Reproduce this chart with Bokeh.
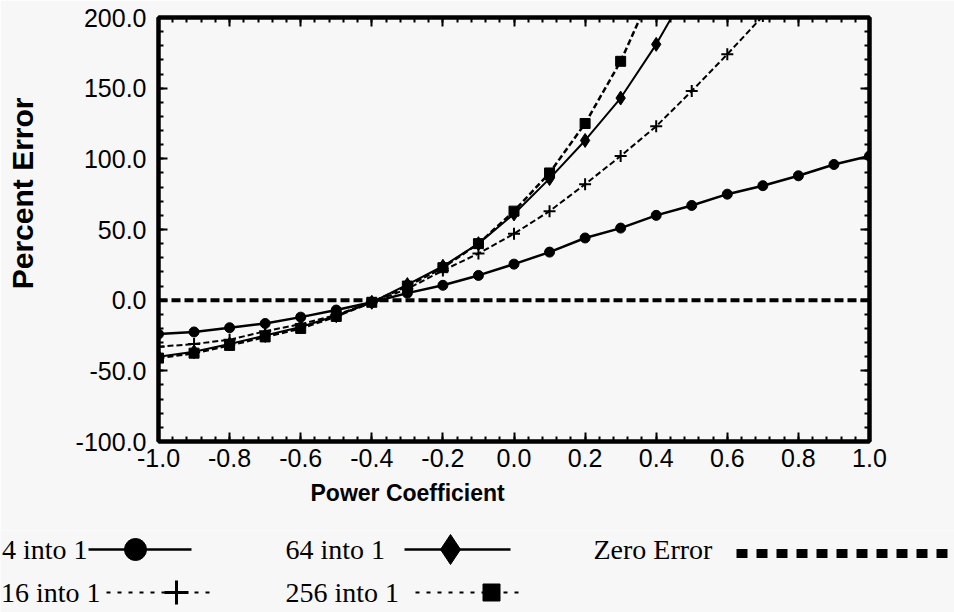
import numpy as np
from bokeh.plotting import figure
from bokeh.models import (Range1d, FixedTicker, PrintfTickFormatter, LinearAxis, Span, Title,
                          CustomJSTickFormatter)
from bokeh.core.properties import value
from bokeh.embed import file_html
from bokeh.resources import INLINE

# ---------------- data ----------------
power_coef = [-1.0, -0.9, -0.8, -0.7, -0.6, -0.5, -0.4, -0.3, -0.2, -0.1,
              0.0, 0.1, 0.2, 0.3, 0.4, 0.5, 0.6, 0.7, 0.8, 0.9, 1.0]
err_4 = [-24, -22.5, -19.5, -16.5, -12, -7, -1.5, 5, 10.5, 17.5,
         25.5, 34, 44, 51, 60, 67, 75, 81, 88, 96, 102]
err_16 = [-33, -31, -28, -22, -17, -10.5, -1.5, 8, 21, 33,
          47, 63, 82, 102, 123, 148, 174, 201, 230]
err_64 = [-40, -36.5, -31, -25, -19, -11, -1.5, 11, 24, 40,
          61, 86, 113, 143, 181, 225]
err_256 = [-41, -37.5, -32, -26, -20, -11.5, -1.5, 10, 23, 40,
           63, 90, 125, 169, 225]
zero_level = 0.0

x_ticks = [-1.0, -0.8, -0.6, -0.4, -0.2, 0.0, 0.2, 0.4, 0.6, 0.8, 1.0]
x_minor_ticks = [round(v, 2) for v in np.arange(-1.0, 1.0001, 0.04)]
y_ticks = [-100, -50, 0, 50, 100, 150, 200]
y_minor_ticks = list(range(-100, 201, 10))

x_title = "Power Coefficient"
y_title = "Percent Error"
legend_labels = ["4 into 1", "16 into 1", "64 into 1", "256 into 1", "Zero Error"]

# ---------------- styling ----------------
BG = "#f7f7f7"
INK = "#000000"
SANS = "Liberation Sans"
SERIF = "Liberation Serif"

W = 954
H1 = 530
H2 = 612 - H1

p = figure(width=W, height=H1, x_range=Range1d(-1.0, 1.0), y_range=Range1d(-100, 200),
           output_backend="svg", toolbar_location=None,
           min_border_left=158, min_border_right=85, min_border_top=17,
           min_border_bottom=H1 - 441,
           background_fill_color=BG, border_fill_color=BG)
p.grid.visible = False
p.outline_line_color = INK
p.outline_line_width = 4

xt = FixedTicker(ticks=x_ticks, minor_ticks=x_minor_ticks)
yt = FixedTicker(ticks=y_ticks, minor_ticks=y_minor_ticks)


def style_axis(ax, show_labels):
    ax.axis_line_width = 4
    ax.axis_line_color = INK
    ax.major_tick_in = 9
    ax.major_tick_out = 0
    ax.minor_tick_in = 5
    ax.minor_tick_out = 0
    ax.major_tick_line_width = 2
    ax.minor_tick_line_width = 2
    ax.major_tick_line_color = INK
    ax.minor_tick_line_color = INK
    ax.major_label_text_font = SANS
    ax.major_label_text_color = INK
    if show_labels:
        ax.formatter = PrintfTickFormatter(format="%.1f")
        ax.major_label_text_font_size = "25px"
    else:
        ax.formatter = CustomJSTickFormatter(code="return ''")
        ax.major_label_text_font_size = "1px"
        ax.major_label_standoff = 0


p.xaxis.ticker = xt
p.yaxis.ticker = yt
style_axis(p.xaxis[0], True)
style_axis(p.yaxis[0], True)
p.xaxis.major_label_standoff = 7
p.yaxis.major_label_standoff = 12
# spacer between tick labels and the y title
p.yaxis.axis_label = " "
p.yaxis.axis_label_text_font_size = "10px"
p.yaxis.axis_label_standoff = 19

top_ax = LinearAxis(ticker=xt)
right_ax = LinearAxis(ticker=yt)
style_axis(top_ax, False)
style_axis(right_ax, False)
p.add_layout(top_ax, "above")
p.add_layout(right_ax, "right")

# axis titles as side titles (offset along the axis like the reference)
p.add_layout(Title(text=y_title, align="right", offset=80, vertical_align="middle", standoff=0,
                   text_font=SANS, text_font_size="30px", text_font_style="bold",
                   text_color=INK), "left")
p.add_layout(Title(text=x_title, align="left", offset=152, vertical_align="top", standoff=20,
                   text_font=SANS, text_font_size="23px", text_font_style="bold",
                   text_color=INK), "below")

# zero error line
p.add_layout(Span(location=zero_level, dimension="width", line_color=INK,
                  line_width=4, line_dash="9 4"))

n16, n64, n256 = len(err_16), len(err_64), len(err_256)
p.line(power_coef, err_4, line_color=INK, line_width=2.5)
p.scatter(power_coef, err_4, marker="circle", size=10, color=INK)

p.line(power_coef[:n16], err_16, line_color=INK, line_width=2, line_dash="6 3")
p.scatter(power_coef[:n16], err_16, marker="cross", size=12, line_width=2, color=INK)

p.line(power_coef[:n64], err_64, line_color=INK, line_width=2)
p.scatter(power_coef[:n64], err_64, marker="diamond", size=14, color=INK)

p.line(power_coef[:n256], err_256, line_color=INK, line_width=2.5, line_dash="6 3")
p.scatter(power_coef[:n256], err_256, marker="square", size=10, color=INK)

# ---------------- legend strip (own canvas, pixel coordinates) ----------------
q = figure(width=W, height=H2, x_range=Range1d(0, W), y_range=Range1d(H2, 0),
           output_backend="svg", toolbar_location=None,
           x_axis_location=None, y_axis_location=None,
           min_border=0, background_fill_color=BG, border_fill_color=BG)
q.grid.visible = False
q.outline_line_color = None

r1, r2 = 549 - H1, 592 - H1
font = value(SERIF)
q.text(x=[87, 100], y=[r1, r2], text=legend_labels[:2], text_align="right",
       text_baseline="middle", text_font=font, text_font_size="28px", text_color=INK)
q.text(x=[285, 285, 593], y=[r1, r2, r1], text=legend_labels[2:], text_align="left",
       text_baseline="middle", text_font=font, text_font_size="28px", text_color=INK)

# 4 into 1
q.line([88, 191], [r1, r1], line_color=INK, line_width=2.5)
q.scatter([135], [r1], marker="circle", size=22, color=INK)
# 16 into 1
q.line([106, 212], [r2, r2], line_color=INK, line_width=2, line_dash="4 7")
q.scatter([176], [r2], marker="cross", size=24, line_width=3, color=INK)
# 64 into 1
q.line([404, 510], [r1, r1], line_color=INK, line_width=2.5)
q.scatter([450], [r1], marker="diamond", size=30, color=INK)
# 256 into 1
q.line([415, 523], [r2, r2], line_color=INK, line_width=2, line_dash="4 7")
q.scatter([491], [r2], marker="square", size=17, color=INK)
# Zero Error
q.line([736, 954], [r1 + 4, r1 + 4], line_color=INK, line_width=9, line_dash="11 9")

html = file_html([p, q], INLINE)
html = html.replace("<body>", '<body style="background-color:%s;">' % BG, 1)
open("out.html", "w").write(html)
